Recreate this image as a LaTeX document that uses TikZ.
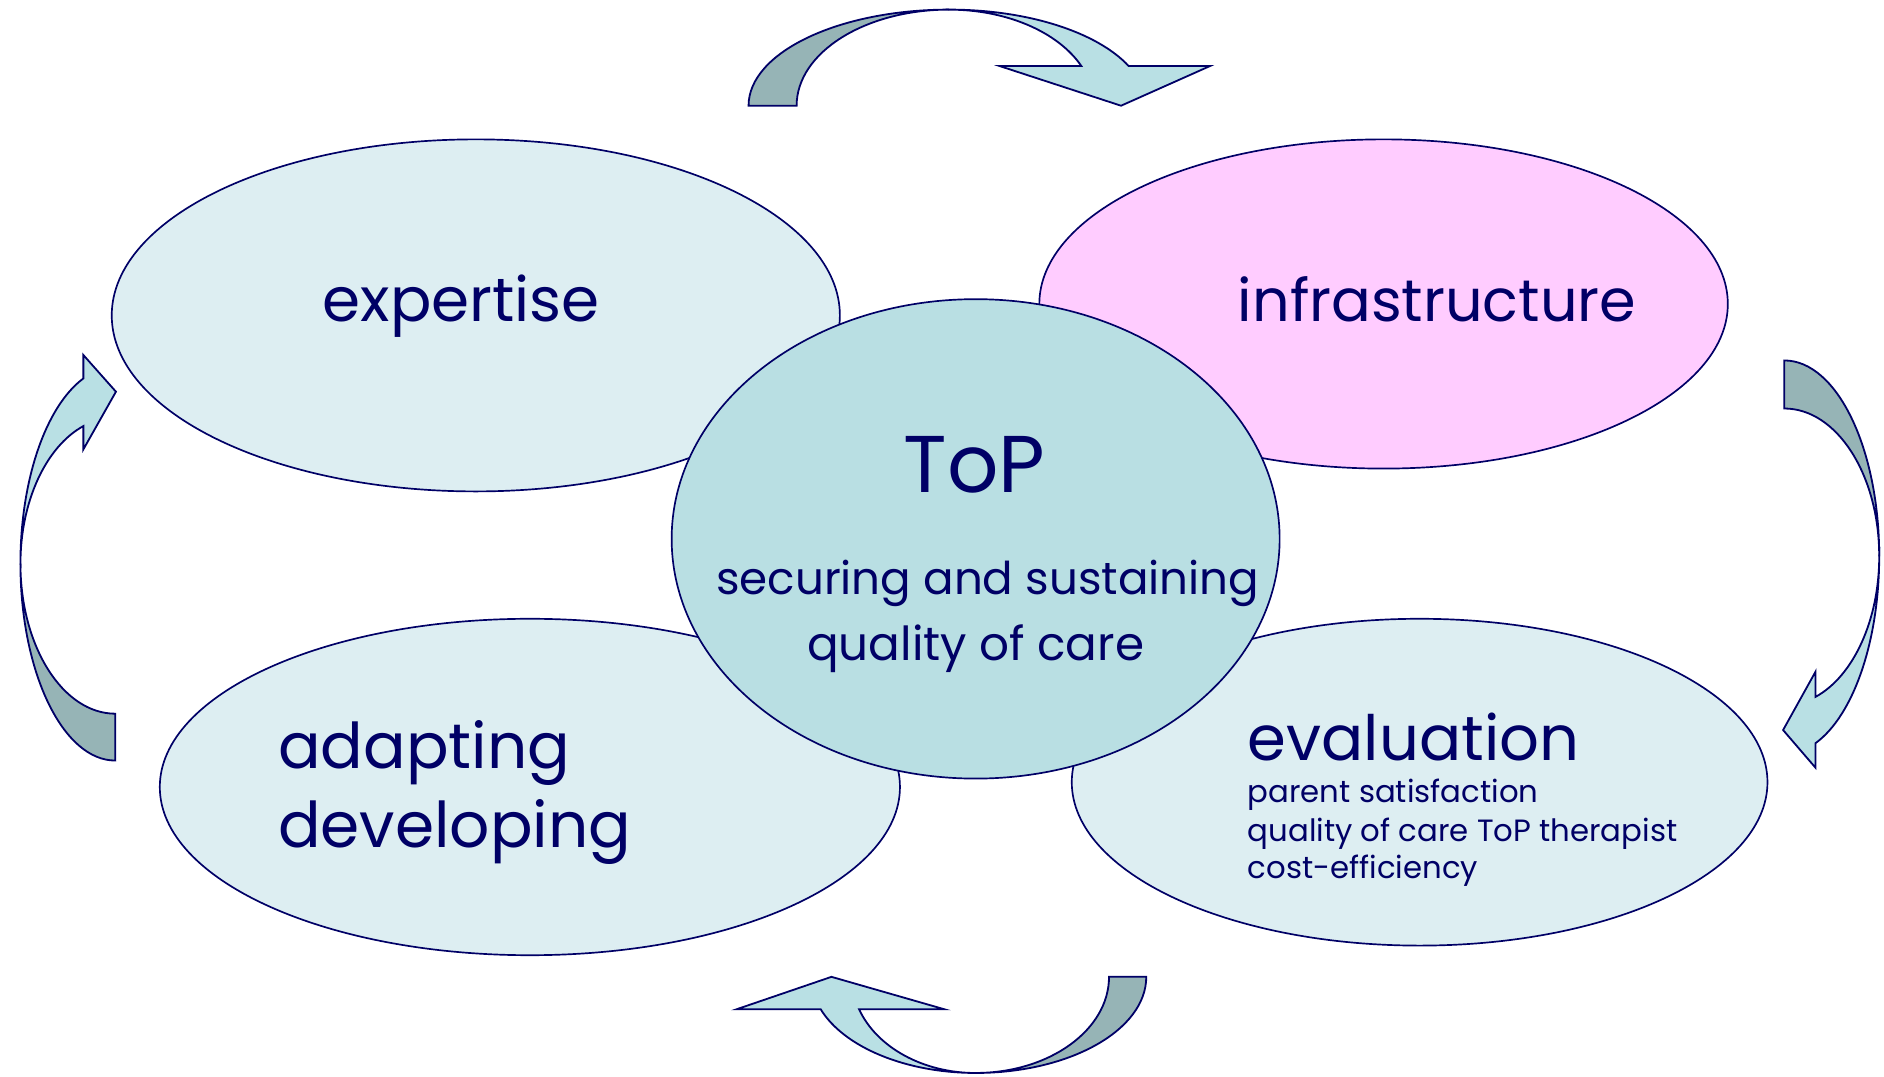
\documentclass[tikz,border=0pt]{standalone}
\usepackage{fontspec}
\setmainfont{Poppins}
\usepackage{tikz}
\usetikzlibrary{shapes.geometric}
\definecolor{NavyLine}{RGB}{0,0,102}
\definecolor{PaleBlue}{RGB}{221,238,242}
\definecolor{CoreBlue}{RGB}{185,223,227}
\definecolor{SoftPink}{RGB}{255,204,255}
\definecolor{ArrowDark}{RGB}{150,180,182}
\definecolor{ArrowLight}{RGB}{185,224,228}

\begin{document}
\begin{tikzpicture}[x=1pt, y=1pt,
		blob/.style={ellipse, draw=NavyLine, line width=1.4pt, inner sep=0pt},
		back/.style={fill=ArrowDark, draw=NavyLine, line width=1.5pt},
		front/.style={fill=ArrowLight, draw=NavyLine, line width=1.5pt},
		every node/.style={text=NavyLine}]
		
		\useasboundingbox (0,0) rectangle (1568,896);
		
		% outer ellipses
		\node[blob, fill=PaleBlue, minimum width=606, minimum height=293] (expertise) at (396,633.5) {};
		\node[blob, fill=SoftPink, minimum width=573, minimum height=274] (infra) at (1151.5,643) {};
		\node[blob, fill=PaleBlue, minimum width=616, minimum height=280] (adapt) at (441,241) {};
		\node[blob, fill=PaleBlue, minimum width=579, minimum height=272] (evaluation) at (1181.5,245) {};
		
		% centre ellipse
		\node[blob, fill=CoreBlue, minimum width=506, minimum height=399] (top) at (812,447.5) {};
		
		% labels
		\node[anchor=base, font=\fontsize{51}{60}\selectfont] (expertiseText) at (384,628) {expertise};
		\node[anchor=base, font=\fontsize{49}{58}\selectfont] (infraText) at (1196,628) {infrastructure};
		\node[anchor=base, font=\fontsize{67}{80}\selectfont] (topText) at (811,486) {ToP};
		\node[anchor=base, font=\fontsize{37.6}{46}\selectfont] (secureText) at (822,401) {securing and sustaining};
		\node[anchor=base, font=\fontsize{39}{46}\selectfont] (careText) at (812,346) {quality of care};
		\node[anchor=base west, font=\fontsize{52.5}{62}\selectfont] (adaptText) at (228,256) {adapting};
		\node[anchor=base west, font=\fontsize{52.5}{62}\selectfont] (developText) at (228,191) {developing};
		\node[anchor=base west, font=\fontsize{52}{62}\selectfont] (evalText) at (1035,263) {evaluation};
		\node[anchor=base west, font=\fontsize{25.6}{30}\selectfont] (parentText) at (1035,228) {parent satisfaction};
		\node[anchor=base west, font=\fontsize{25.6}{30}\selectfont] (therapistText) at (1035,196) {quality of care ToP therapist};
		\node[anchor=base west, font=\fontsize{25.6}{30}\selectfont] (costText) at (1035,165) {cost-efficiency};
		
		% top arrow
		\draw[back] (623,808) arc[start angle=180, end angle=90, x radius=167, y radius=80]
			arc[start angle=90, end angle=180, x radius=127, y radius=80] -- cycle;
		\draw[front] (790,888) arc[start angle=90, end angle=24.4, x radius=164, y radius=80]
			-- (1007,841) -- (933,808) -- (832,841) -- (900,841)
			arc[start angle=24.4, end angle=90, x radius=120.7, y radius=80] -- cycle;
		
		% right arrow
		\draw[back] (1485,596) arc[start angle=90, end angle=0, x radius=79, y radius=163]
			arc[start angle=0, end angle=90, x radius=79, y radius=123] -- cycle;
		\draw[front] (1564,433) arc[start angle=0, end angle=-70.8, x radius=79, y radius=164.7]
			-- (1511,257) -- (1484,288.4) -- (1511,337) -- (1511,316)
			arc[start angle=-70.8, end angle=0, x radius=79, y radius=124] -- cycle;
		
		% bottom arrow
		\draw[back] (954,83) arc[start angle=0, end angle=-90, x radius=142, y radius=80]
			arc[start angle=-90, end angle=0, x radius=111, y radius=80] -- cycle;
		\draw[front] (812,3) arc[start angle=-90, end angle=-160.3, x radius=137, y radius=80]
			-- (613,56) -- (692,83) -- (786,56) -- (715,56)
			arc[start angle=-160.3, end angle=-90, x radius=103, y radius=80] -- cycle;
		
		% left arrow
		\draw[back] (96,263) arc[start angle=270, end angle=180, x radius=79, y radius=164]
			arc[start angle=180, end angle=270, x radius=79, y radius=125] -- cycle;
		\draw[front] (17,427) arc[start angle=180, end angle=109.7, x radius=79, y radius=163.6]
			-- (69.4,600.5) -- (96.5,570) -- (69.4,522) -- (69.4,541.4)
			arc[start angle=109.7, end angle=180, x radius=79, y radius=121.6] -- cycle;
		
	\end{tikzpicture}
\end{document}
